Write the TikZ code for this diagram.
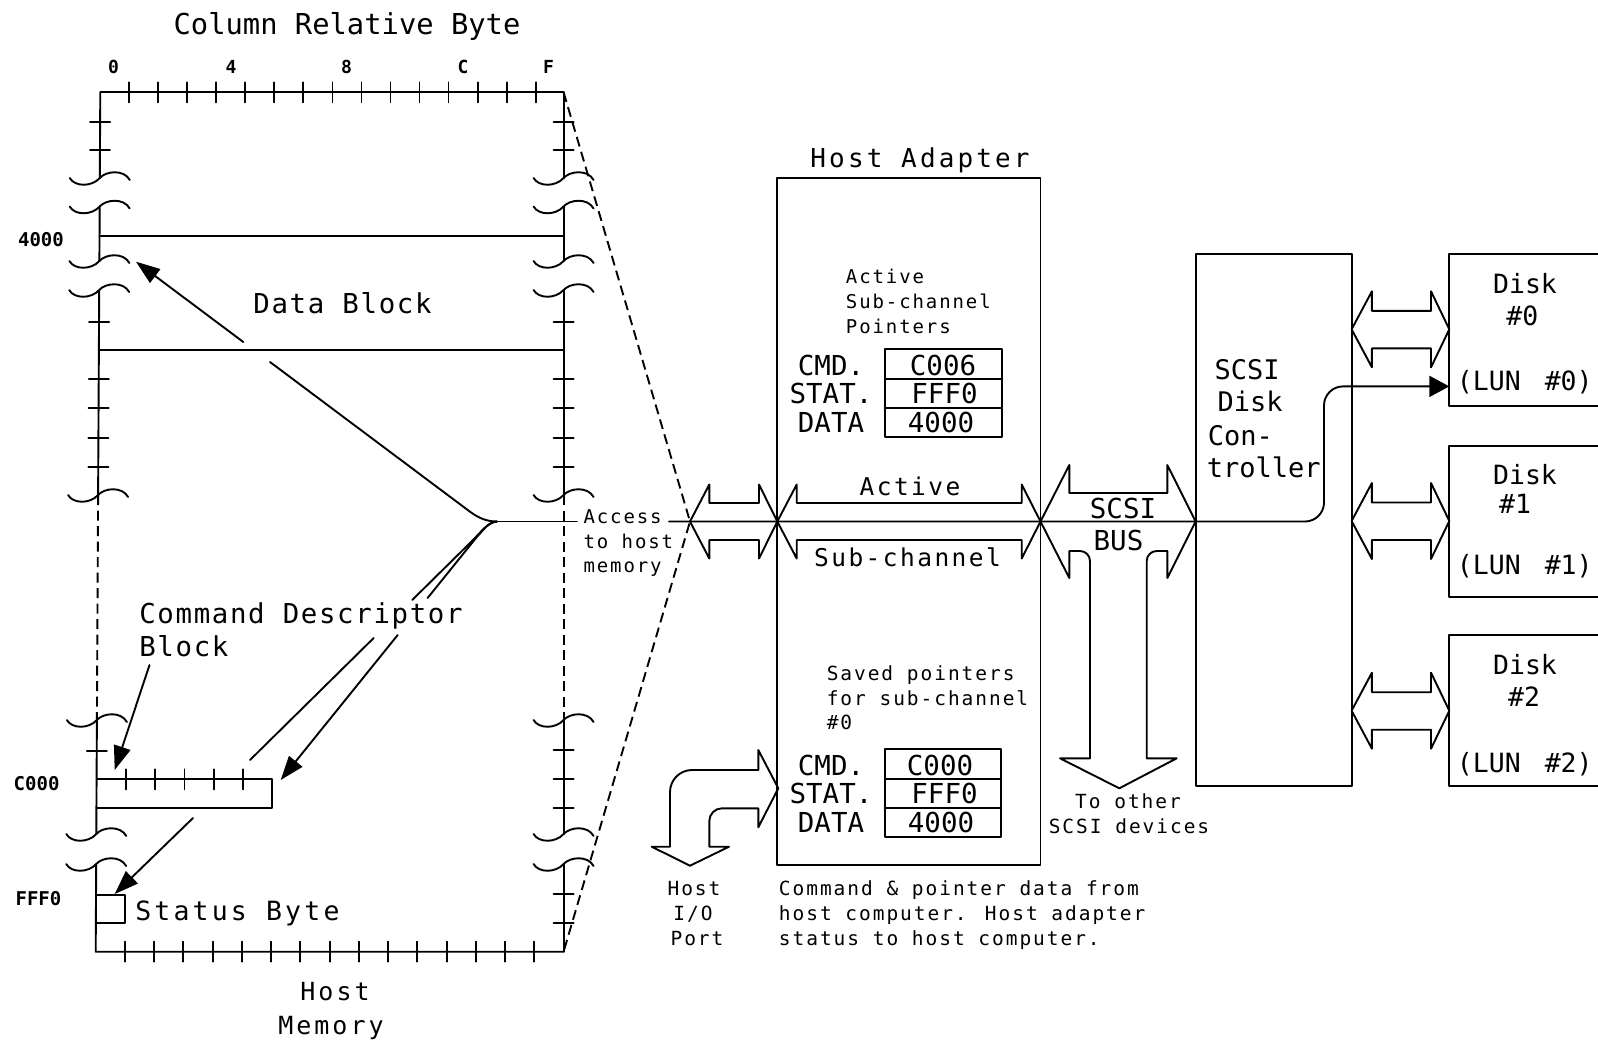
\documentclass[tikz,border=0pt]{standalone}
\usepackage{fontspec}
\usetikzlibrary{arrows.meta}
\newfontfamily\fA{DejaVu Sans Mono}
\newfontfamily\fB[LetterSpace=6]{DejaVu Sans Mono}
\newfontfamily\fC[LetterSpace=12]{DejaVu Sans Mono}
\newfontfamily\fD[LetterSpace=10]{DejaVu Sans Mono}
\newcommand\fs[1]{\fontsize{#1}{#1}\selectfont}
\begin{document}
\begin{tikzpicture}[x=1pt,y=-1pt,line width=1.9pt,line cap=round,line join=round,
  lbl/.style={inner sep=0pt,anchor=base},
  lblw/.style={inner sep=0pt,anchor=base west},
  arr/.style={-{Triangle[length=24pt,width=17pt]}},
  dsh/.style={dash pattern=on 10pt off 5.5pt,line cap=butt},
  box/.style={draw,rectangle,inner sep=0pt,outer sep=0pt,anchor=north west},
  brk/.pic={\draw (-30,0) .. controls (-25,9) and (-8,9) .. (0,0) .. controls (6,-7) and (24,-9) .. (30,2);}]
\fill[white] (0,0) rectangle (1598,1042);
\useasboundingbox (0,0) rectangle (1598,1042);

% ---------- key points ----------
\coordinate (J) at (497,521.5);
\coordinate (TR) at (563.6,92.3);
\coordinate (BR) at (563.6,951.7);
\coordinate (XA) at (690,521.5);
\coordinate (XB) at (777.3,521.5);
\coordinate (XC) at (1040.5,521.5);
\coordinate (XD) at (1195.6,521.5);

% ---------- host memory ----------
\node[lbl,font=\fA\fs{28.8}] (colt) at (347,34) {Column Relative Byte};
\foreach \t/\x in {0/113.5,4/231,8/346.5,C/463,F/548.5}
  \node[lbl,font=\fA\bfseries\fs{18}] (col\t) at (\x,73) {\t};
\draw (100.3,92.3) -- (TR);
\foreach \i in {1,...,15} \draw ({100.3+\i*29.02},82.3) -- ++(0,20);
\foreach \i in {1,...,15} \draw ({95.7+\i*29.24},941.7) -- ++(0,20);
% left edge
\draw (100.3,92.3) -- (99.8,178);
\draw (99.7,206.5) -- (99.4,261);
\draw (99.2,290) -- (98.1,495);
\draw[dsh] (98.1,495) -- (96.9,720);
\draw (96.9,720) -- (96.3,834);
\draw (96.2,864) -- (95.7,951.7) -- (BR);
% right edge
\draw (TR) -- (563.6,178);
\draw (563.6,206.5) -- (563.6,261);
\draw (563.6,290) -- (563.6,495);
\draw[dsh] (563.6,495) -- (563.6,720);
\draw (563.6,720) -- (563.6,834);
\draw (563.6,864) -- (BR);
% breaks
\foreach \x/\y in {99.8/178,99.7/206.5,99.4/261,99.2/290,98.1/495,96.9/720,96.3/834,96.2/864}
  \pic at (\x,\y) {brk};
\foreach \y in {178,206.5,261,290,495,720,834,864}
  \pic at (563.6,\y) {brk};
% ticks on sides
\foreach \x/\y in {100.1/121.7,100/150,99.1/322,98.8/379,98.6/408,98.4/438,98.3/467,96.8/751}
  \draw (\x-10,\y) -- (\x+10,\y);
\foreach \y in {121.7,150,322,379,408,438,467,750,779,808,894,923}
  \draw (553.6,\y) -- (573.6,\y);
% rows
\draw (99.5,236) -- (563.6,236);
\draw (98.9,350) -- (563.6,350);
\node[lbl,font=\fA\bfseries\fs{19}] (a4000) at (41,246.7) {4000};
\node[lbl,font=\fB\fs{27.4}] (datab) at (342.5,313.3) {Data Block};
% command descriptor block
\draw (96.6,779.3) -- (271.6,779.3) -- (271.6,807.7) -- (96.5,807.7);
\foreach \i in {1,...,5} \draw ({96.6+\i*29.3},769.3) -- ++(0,20);
\node[lbl,font=\fA\bfseries\fs{19}] (aC000) at (36.6,790) {C000};
% status byte
\draw (96,895) -- (125,895) -- (125,923.3) -- (95.9,923.3);
\node[lbl,font=\fA\bfseries\fs{19}] (aFFF0) at (38.5,905) {FFF0};
\node[lblw,font=\fC\fs{26.5}] (statb) at (134.4,920) {Status Byte};
\node[lblw,font=\fB\fs{27.4}] (cdb1) at (138.4,623.3) {Command Descriptor};
\node[lblw,font=\fB\fs{27.4}] (cdb2) at (138.4,656) {Block};
\node[lbl,font=\fC\fs{25}] (hm1) at (335,1000) {Host};
\node[lbl,font=\fC\fs{25}] (hm2) at (331,1034) {Memory};

% pointer lines from the junction
\draw (J) .. controls (488,521.5) and (480,519) .. (470,511.7) -- (270,362);
\draw[arr] (243.3,342) -- (136,261.7);
\draw (J) .. controls (488,522) and (482,531) .. (472,541) -- (412.2,600);
\draw (373.7,638) -- (250,760);
\draw (J) .. controls (489,522) and (484,529) .. (476,538) -- (427.6,598);
\draw[arr] (397.7,635) -- (280.7,780);
\draw[arr] (149.5,665) -- (114.7,770);
\draw[arr] (193,818) -- (114.7,894);

% access to host memory
\draw (J) -- (577,521.5);
\node[lblw,font=\fD\fs{19}] (acc1) at (582.6,523) {Access};
\node[lblw,font=\fD\fs{19}] (acc2) at (582.6,548) {to host};
\node[lblw,font=\fD\fs{19}] (acc3) at (582.6,572) {memory};
\draw[dsh] (TR) -- (XA) -- (BR);
\draw (XA) -- (709.3,484.5) -- (709.3,503) -- (759,503) -- (759,484.5) -- (XB);
\draw (XA) -- (709.3,558.5) -- (709.3,540) -- (759,540) -- (759,558.5) -- (XB);

% ---------- host adapter ----------
\node[lbl,font=\fC\fs{26}] (hat) at (920,167) {Host Adapter};
\node[box,minimum width=263.2pt,minimum height=686.7pt] (ha) at (777.3,178.3) {};
\node[lblw,font=\fD\fs{19}] (asp1) at (845,283.3) {Active};
\node[lblw,font=\fD\fs{19}] (asp2) at (845,308.3) {Sub-channel};
\node[lblw,font=\fD\fs{19}] (asp3) at (845,333) {Pointers};
\draw (885,349) rectangle (1001.7,436.7);
\draw (885,379) -- (1001.7,379);
\draw (885,407.7) -- (1001.7,407.7);
\node[lbl,font=\fA\fs{27.5}] (t1a) at (831,375) {CMD.};
\node[lbl,font=\fA\fs{27.5}] (t1b) at (831,403.5) {STAT.};
\node[lbl,font=\fA\fs{27.5}] (t1c) at (831,432.5) {DATA};
\node[lbl,font=\fA\fs{27.5}] (v1a) at (943,375) {C006};
\node[lbl,font=\fA\fs{27.5}] (v1b) at (944.5,403.5) {FFF0};
\node[lbl,font=\fA\fs{27.5}] (v1c) at (941,432.5) {4000};
\draw (XB) -- (796.7,484.5) -- (796.7,503) -- (1021.7,503) -- (1021.7,484.5) -- (XC);
\draw (XB) -- (796.7,558.5) -- (796.7,540) -- (1021.7,540) -- (1021.7,558.5) -- (XC);
\node[lbl,font=\fD\fs{24.5}] (actv) at (910,495) {Active};
\node[lbl,font=\fD\fs{24.5}] (subc) at (907.5,566) {Sub-channel};
\node[lblw,font=\fD\fs{19.5}] (sv1) at (825.8,680) {Saved pointers};
\node[lblw,font=\fD\fs{19.5}] (sv2) at (825.8,705) {for sub-channel};
\node[lblw,font=\fD\fs{19.5}] (sv3) at (825.8,729) {\#0};
\draw (885,749.3) rectangle (1001,836.7);
\draw (885,779.3) -- (1001,779.3);
\draw (885,808.3) -- (1001,808.3);
\node[lbl,font=\fA\fs{27.5}] (t2a) at (831,775) {CMD.};
\node[lbl,font=\fA\fs{27.5}] (t2b) at (831,803.5) {STAT.};
\node[lbl,font=\fA\fs{27.5}] (t2c) at (831,832) {DATA};
\node[lbl,font=\fA\fs{27.5}] (v2a) at (940,775) {C000};
\node[lbl,font=\fA\fs{27.5}] (v2b) at (944.5,803.5) {FFF0};
\node[lbl,font=\fA\fs{27.5}] (v2c) at (941,832) {4000};

% host I/O port arrow
\draw (778.3,788.3) -- (758.3,750) -- (758.3,770) -- (692,770)
  .. controls (679.9,770) and (670,779.9) .. (670,792) -- (670,846.7)
  -- (651.7,846.7) -- (690,865.7) -- (729,846.7) -- (709.3,846.7) -- (709.3,821)
  .. controls (709.3,814) and (715,808.3) .. (722,808.3) -- (758.3,808.3)
  -- (758.3,827.3) -- cycle;
\node[lbl,font=\fD\fs{19.5}] (hio1) at (694,895) {Host};
\node[lbl,font=\fD\fs{19.5}] (hio2) at (693,920) {I/O};
\node[lbl,font=\fD\fs{19.5}] (hio3) at (697,945) {Port};
\node[lblw,font=\fD\fs{19.5}] (cp1) at (778,895) {Command \& pointer data from};
\node[lblw,font=\fD\fs{19.5}] (cp2) at (778,920) {host computer. Host adapter};
\node[lblw,font=\fD\fs{19.5}] (cp3) at (778,945) {status to host computer.};

% ---------- SCSI bus ----------
\draw (XC) -- (1069.3,465) -- (1069.3,493) -- (1167.3,493) -- (1167.3,465) -- (XD);
\draw (XC) -- (1069.3,578) -- (1069.3,551) -- (1080,551)
  .. controls (1085.5,551) and (1090,555.5) .. (1090,561) -- (1090,758.3)
  -- (1060,758.3) -- (1119.3,788.3) -- (1176.7,758.3) -- (1146.7,758.3) -- (1146.7,561)
  .. controls (1146.7,555.5) and (1151.2,551) .. (1156.7,551) -- (1167.3,551)
  -- (1167.3,578) -- (XD);
\node[lbl,font=\fA\fs{27.5}] (scsi) at (1123,518.3) {SCSI};
\node[lbl,font=\fA\fs{27.5}] (bus) at (1118.5,550) {BUS};
\node[lbl,font=\fD\fs{19.5}] (to1) at (1128,808) {To other};
\node[lbl,font=\fD\fs{19.5}] (to2) at (1129,833) {SCSI devices};

% ---------- controller ----------
\node[box,minimum width=156pt,minimum height=532.1pt] (ctl) at (1195.6,254.3) {};
\node[lblw,font=\fA\fs{27}] (c1) at (1213.6,379.3) {SCSI};
\node[lblw,font=\fA\fs{27}] (c2) at (1216.6,411.4) {Disk};
\node[lblw,font=\fA\fs{27}] (c3) at (1207,445.4) {Con-};
\node[lblw,font=\fA\fs{27}] (c4) at (1206,477.5) {troller};

% main data path
\draw[-{Triangle[length=20pt,width=21pt]},rounded corners=19pt]
  (669,521.5) -- (1324,521.5) -- (1324,386.4) -- (1449.3,386.4);

% ---------- disks ----------
\foreach \c in {329.3,521,710.7}
  \draw (1351.6,\c) -- (1371.9,\c-38) -- (1371.9,\c-18.5) -- (1431,\c-18.5)
   -- (1431,\c-38) -- (1449.3,\c) -- (1431,\c+38) -- (1431,\c+19)
   -- (1371.9,\c+19) -- (1371.9,\c+38) -- cycle;
\draw (1610,254.3) -- (1449.3,254.3) -- (1449.3,406) -- (1610,406);
\draw (1610,446.4) -- (1449.3,446.4) -- (1449.3,597) -- (1610,597);
\draw (1610,634.6) -- (1449.3,634.6) -- (1449.3,786.4) -- (1610,786.4);
\node[lbl,font=\fA\fs{26.5}] (d0a) at (1525,293.6) {Disk};
\node[lbl,font=\fA\fs{26.5}] (d0b) at (1522.4,325.7) {\#0};
\node[lblw,font=\fA\fs{26.5}] (d0c) at (1456,390) {(LUN\hspace{24pt}\#0)};
\node[lbl,font=\fA\fs{26.5}] (d1a) at (1525,484.6) {Disk};
\node[lbl,font=\fA\fs{26.5}] (d1b) at (1515,513) {\#1};
\node[lblw,font=\fA\fs{26.5}] (d1c) at (1456,574) {(LUN\hspace{24pt}\#1)};
\node[lbl,font=\fA\fs{26.5}] (d2a) at (1525,674) {Disk};
\node[lbl,font=\fA\fs{26.5}] (d2b) at (1524,706) {\#2};
\node[lblw,font=\fA\fs{26.5}] (d2c) at (1456,772) {(LUN\hspace{24pt}\#2)};
\end{tikzpicture}
\end{document}
